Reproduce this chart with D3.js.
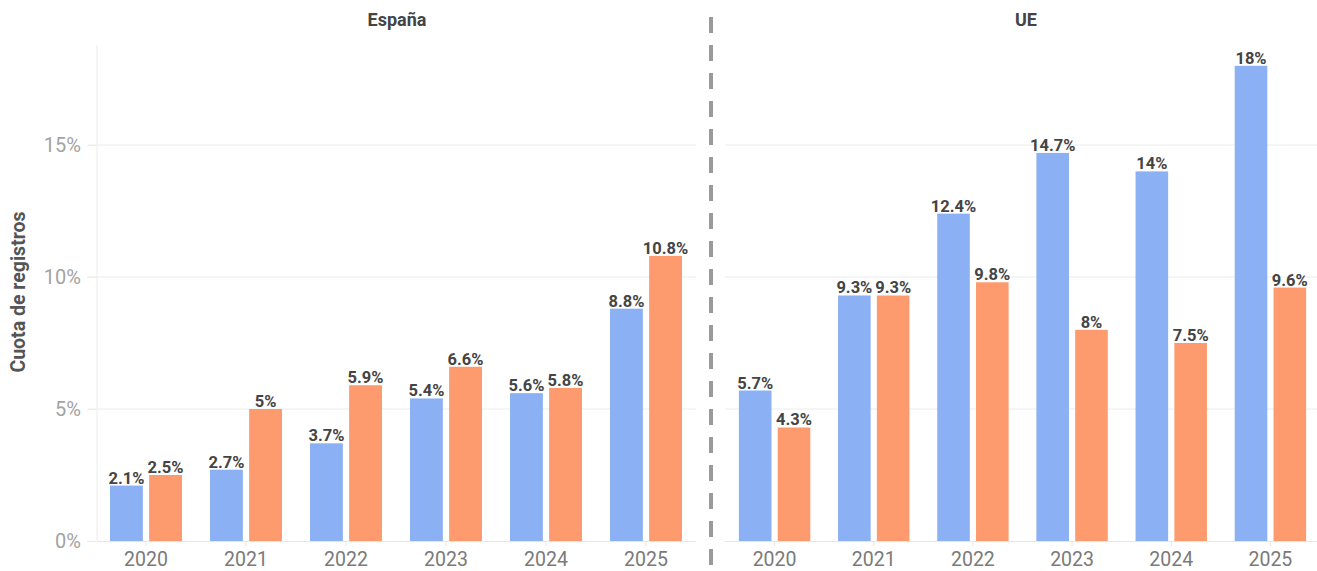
<!DOCTYPE html>
<html>
<head>
<meta charset="utf-8">
<script src="https://cdn.jsdelivr.net/npm/d3@7"></script>
<style>
  html, body { margin: 0; padding: 0; background: #fff; }
  svg { display: block; font-family: Roboto, "Noto Sans", sans-serif; }
</style>
</head>
<body>
<svg id="chart" width="1317" height="571"></svg>
<script>
// Years on the x axis
const years = ["2020", "2021", "2022", "2023", "2024", "2025"];

// Panel titles
const panels = ["España", "UE"];

// Registration share (%) per year, two series per panel
const espanaSerie1 = [2.1, 2.7, 3.7, 5.4, 5.6, 8.8];
const espanaSerie2 = [2.5, 5, 5.9, 6.6, 5.8, 10.8];
const ueSerie1 = [5.7, 9.3, 12.4, 14.7, 14, 18];
const ueSerie2 = [4.3, 9.3, 9.8, 8, 7.5, 9.6];

// Y axis ticks
const yTicks = [0, 5, 10, 15];
const yTitle = "Cuota de registros";

const seriesKeys = ["serie1", "serie2"];
const colors = { serie1: "#8cb0f4", serie2: "#fd9b6e" };

const svg = d3.select("#chart");

const y = d3.scaleLinear().domain([0, 15]).range([541, 145]);
const plotTop = 45;

const panelDefs = [
  { title: panels[0], s1: espanaSerie1, s2: espanaSerie2, x0: 96, x1: 696, titleX: 397, showAxis: true },
  { title: panels[1], s1: ueSerie1, s2: ueSerie2, x0: 725, x1: 1320, titleX: 1026, showAxis: false }
];

panelDefs.forEach(p => {
  const g = svg.append("g");
  const x = d3.scaleBand().domain(years).range([p.x0, p.x1])
    .paddingInner(0.28).paddingOuter(0.14);
  const xs = d3.scaleBand().domain(seriesKeys).range([0, x.bandwidth()]).paddingInner(0.16);

  // horizontal gridlines
  const gridStart = p.showAxis ? p.x0 - 8 : p.x0;
  g.append("g").selectAll("line").data(yTicks.slice(1)).join("line")
    .attr("x1", gridStart).attr("x2", Math.min(p.x1, 1317))
    .attr("y1", d => y(d)).attr("y2", d => y(d))
    .attr("stroke", "#ececec").attr("stroke-width", 1);

  if (p.showAxis) {
    const ya = d3.axisLeft(y).tickValues(yTicks).tickFormat(d => d + "%").tickSize(9).tickPadding(6);
    const ag = g.append("g").attr("transform", `translate(${p.x0},0)`).call(ya);
    ag.select(".domain").remove();
    ag.selectAll(".tick line").attr("stroke", "#ececec");
    ag.selectAll(".tick text").attr("fill", "#a3a3a3").style("font-size", "20px")
      .attr("font-family", "Roboto, sans-serif");
    g.append("line").attr("x1", p.x0 + 1).attr("x2", p.x0 + 1)
      .attr("y1", plotTop).attr("y2", y(0))
      .attr("stroke", "#ececec").attr("stroke-width", 1);
  }

  // bottom axis
  const xa = d3.axisBottom(x).tickSize(5).tickPadding(6);
  const bg = g.append("g").attr("transform", `translate(0,${y(0)})`).call(xa);
  bg.select(".domain").attr("stroke", "#e6e6e6").attr("d", `M${p.x0 + (p.showAxis ? 1 : 0)},0.5H${p.x1}`);
  bg.selectAll(".tick line").attr("stroke", "#e6e6e6");
  bg.selectAll(".tick text").attr("fill", "#7a7a7a").style("font-size", "19.5px")
    .attr("font-family", "Roboto, sans-serif");

  const rows = years.map((yr, i) => ({ year: yr, serie1: p.s1[i], serie2: p.s2[i] }));

  const groups = g.append("g").selectAll("g").data(rows).join("g")
    .attr("transform", d => `translate(${x(d.year)},0)`);

  groups.selectAll("rect").data(d => seriesKeys.map(k => ({ key: k, value: d[k] }))).join("rect")
    .attr("x", d => xs(d.key))
    .attr("width", xs.bandwidth())
    .attr("y", d => y(d.value))
    .attr("height", d => y(0) - y(d.value))
    .attr("fill", d => colors[d.key]);

  groups.selectAll("text.val").data(d => seriesKeys.map(k => ({ key: k, value: d[k] }))).join("text")
    .attr("class", "val")
    .attr("x", d => xs(d.key) + xs.bandwidth() / 2)
    .attr("y", d => y(d.value) - 2)
    .attr("text-anchor", "middle")
    .attr("fill", "#444")
    .style("font-size", "16.5px")
    .style("font-weight", "bold")
    .text(d => d.value + "%");

  // panel title
  g.append("text")
    .attr("x", p.titleX).attr("y", 26)
    .attr("text-anchor", "middle")
    .attr("fill", "#444")
    .style("font-size", "18px").style("font-weight", "bold")
    .text(p.title);
});

// divider between panels
svg.append("line")
  .attr("x1", 711).attr("x2", 711).attr("y1", 17).attr("y2", 571)
  .attr("stroke", "#9a9a9a").attr("stroke-width", 4)
  .attr("stroke-dasharray", "16,12");

// y axis title
svg.append("text")
  .attr("transform", "translate(25,292) rotate(-90)")
  .attr("text-anchor", "middle")
  .attr("fill", "#555")
  .style("font-size", "19.5px").style("font-weight", "bold")
  .text(yTitle);
</script>
</body>
</html>
